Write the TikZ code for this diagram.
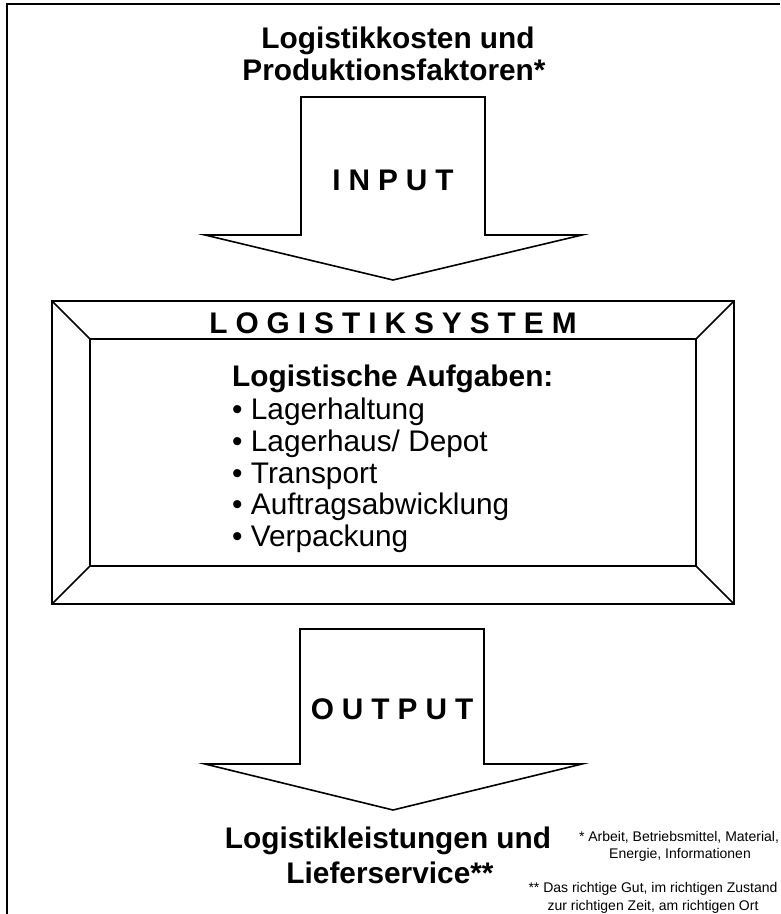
\documentclass[tikz,border=0pt]{standalone}
\usepackage{fontspec}
\setmainfont{Liberation Sans}
\newcommand\lsp{\hspace{8pt}}
\tikzset{
  blockshape/.style={draw=black, line width=1.6pt, line join=miter, fill=white},
  heading/.style={inner sep=0pt, anchor=base, font=\fontsize{29.8}{34}\selectfont\bfseries},
  listitem/.style={inner sep=0pt, anchor=base west, font=\fontsize{29.8}{34}\selectfont},
  fnote/.style={inner sep=0pt, anchor=base, font=\fontsize{14}{17}\selectfont},
}
\begin{document}
\begin{tikzpicture}[x=1pt, y=-1pt]
\useasboundingbox (0,0) rectangle (780,914);
% page border
\draw[line width=1.3pt] (7,914) -- (7,4) -- (780,4);
% title
\node[heading] (t1) at (398,48) {Logistikkosten und};
\node[heading] (t2) at (394,80) {Produktionsfaktoren*};
% input arrow
\draw[blockshape] (301,97) -- (485,97) -- (485,235) -- (582,235) -- (393,280) -- (205,235) -- (301,235) -- cycle;
\node[heading] (input) at (393,190) {I\lsp N\lsp P\lsp U\lsp T};
% frame
\coordinate (o1) at (52,301); \coordinate (o2) at (734,301);
\coordinate (o3) at (734,604); \coordinate (o4) at (52,604);
\coordinate (i1) at (90,339); \coordinate (i2) at (696,339);
\coordinate (i3) at (696,566); \coordinate (i4) at (90,566);
\draw[blockshape] (o1) -- (o2) -- (o3) -- (o4) -- cycle;
\draw[blockshape] (i1) -- (i2) -- (i3) -- (i4) -- cycle;
\draw[blockshape] (o1) -- (i1) (o2) -- (i2) (o3) -- (i3) (o4) -- (i4);
\node[heading] (sys) at (393,333) {L\lsp O\lsp G\lsp I\lsp S\lsp T\lsp I\lsp K\lsp S\lsp Y\lsp S\lsp T\lsp E\lsp M};
\node[heading, anchor=base west] (aufg) at (232,386) {Logistische Aufgaben:};
\node[listitem] (l1) at (232,419) {• Lagerhaltung};
\node[listitem] (l2) at (232,451) {• Lagerhaus/ Depot};
\node[listitem] (l3) at (232,483) {• Transport};
\node[listitem] (l4) at (232,514) {• Auftragsabwicklung};
\node[listitem] (l5) at (232,546) {• Verpackung};
% output arrow
\draw[blockshape] (300,629) -- (484,629) -- (484,764) -- (582,764) -- (393,810) -- (205,764) -- (300,764) -- cycle;
\node[heading] (output) at (392,719) {O\lsp U\lsp T\lsp P\lsp U\lsp T};
% bottom title
\node[heading] (b1) at (388,848) {Logistikleistungen und};
\node[heading] (b2) at (390,883) {Lieferservice**};
% footnotes
\node[fnote] (f1) at (679,841) {* Arbeit, Betriebsmittel, Material,};
\node[fnote] (f2) at (680,858) {Energie, Informationen};
\node[fnote] (f3) at (653,892) {** Das richtige Gut, im richtigen Zustand};
\node[fnote] (f4) at (653,910) {zur richtigen Zeit, am richtigen Ort};
\end{tikzpicture}
\end{document}
